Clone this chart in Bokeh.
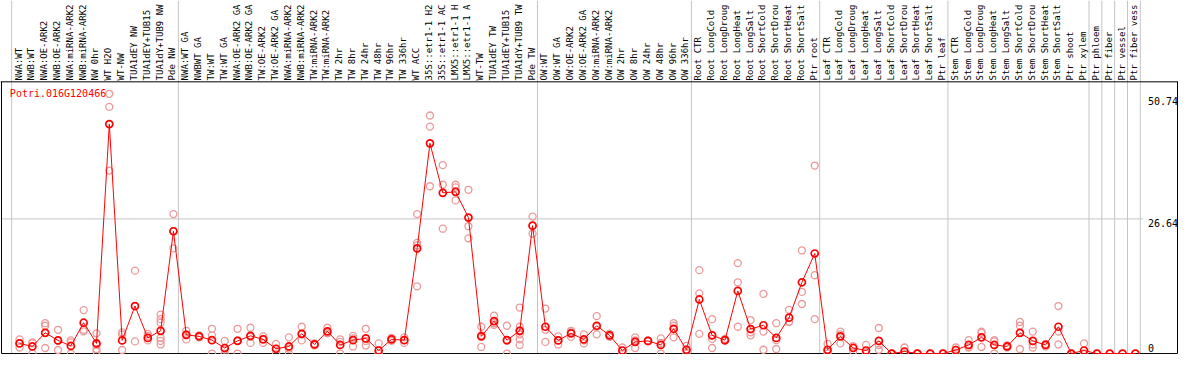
from math import pi
from bokeh.plotting import figure
from bokeh.models import Range1d, ColumnDataSource
from bokeh.embed import file_html
from bokeh.resources import INLINE
from bokeh.core.properties import value

gene_id = "Potri.016G120466"

categories = [
    "NWA:WT", "NWB:WT", "NWA:OE-ARK2", "NWB:OE-ARK2", "NWA:miRNA-ARK2",
    "NWB:miRNA-ARK2", "NW 0hr", "WT H2O", "WT-NW", "TUA1dEY NW",
    "TUA1dEY+TUB15", "TUA1dY+TUB9 NW", "Pde NW",
    "NWA:WT GA", "NWBWT GA", "TW:WT", "TW:WT GA", "NWA:OE-ARK2 GA",
    "NWB:OE-ARK2 GA", "TW:OE-ARK2", "TW:OE-ARK2 GA", "NWA:miRNA-ARK2",
    "NWB:miRNA-ARK2", "TW:miRNA-ARK2", "TW:miRNA-ARK2", "TW 2hr", "TW 8hr",
    "TW 24hr", "TW 48hr", "TW 96hr", "TW 336hr", "WT ACC", "35S::etr1-1 H2",
    "35S::etr1-1 AC", "LMX5::etr1-1 H", "LMX5::etr1-1 A", "WT-TW",
    "TUA1dEY TW", "TUA1dEY+TUB15", "TUA1dY+TUB9 TW", "Pde TW",
    "OW:WT", "OW:WT GA", "OW:OE-ARK2", "OW:OE-ARK2 GA", "OW:miRNA-ARK2",
    "OW:miRNA-ARK2", "OW 2hr", "OW 8hr", "OW 24hr", "OW 48hr", "OW 96hr",
    "OW 336hr",
    "Root CTR", "Root LongCold", "Root LongDroug", "Root LongHeat",
    "Root LongSalt", "Root ShortCold", "Root ShortDrou", "Root ShortHeat",
    "Root ShortSalt", "Ptr root",
    "Leaf CTR", "Leaf LongCold", "Leaf LongDroug", "Leaf LongHeat",
    "Leaf LongSalt", "Leaf ShortCold", "Leaf ShortDrou", "Leaf ShortHeat",
    "Leaf ShortSalt", "Ptr leaf",
    "Stem CTR", "Stem LongCold", "Stem LongDroug", "Stem LongHeat",
    "Stem LongSalt", "Stem ShortCold", "Stem ShortDrou", "Stem ShortHeat",
    "Stem ShortSalt", "Ptr shoot", "Ptr xylem", "Ptr phloem", "Ptr fiber",
    "Ptr vessel", "Ptr fiber vess",
]

means = [
    2.0, 1.4, 4.1, 2.6, 1.5, 6.1, 2.0, 45.4, 2.6, 9.4, 3.1, 4.5, 24.2,
    3.7, 3.4, 2.65, 1.1, 2.5, 3.5, 2.8, 0.95, 1.4, 3.9, 1.8, 4.4, 1.7, 2.65,
    3.0, 0.6, 2.8, 2.65, 20.8, 41.6, 31.8, 32.0, 26.9, 3.4, 6.4, 2.65, 4.5,
    25.3,
    5.3, 2.6, 4.0, 2.8, 5.5, 3.6, 0.6, 2.3, 2.5, 1.7, 4.9, 0.75,
    10.7, 3.6, 2.65, 12.4, 4.85, 5.6, 3.1, 7.1, 14.1, 19.8,
    0.75, 3.4, 1.1, 0.6, 2.5, 0.0, 0.4, 0.0, 0.0, 0.0,
    0.7, 1.7, 3.2, 1.7, 1.4, 4.1, 2.5, 1.7, 5.3, 0.0, 0.6, 0.0, 0.0, 0.0, 0.0,
]

replicates = [
    [2.8, 2.0, 1.2], [2.2, 2.0, 0.0], [6.0, 5.5, 1.1], [4.7, 2.5, 0.7],
    [2.6, 2.2, 0.0], [8.6, 4.7, 4.4], [4.0, 1.7, 0.9, 0.4], [51.4, 48.8, 36.2],
    [4.2, 3.8, 0.7], [16.4, 9.4, 2.4], [3.9, 3.5, 2.6],
    [7.7, 6.8, 6.1, 3.1, 2.5, 1.8], [27.6, 24.2, 20.8],
    [4.5, 3.8, 2.8], [3.6, 3.4, 3.2], [4.9, 3.6, 0.0], [2.5, 0.8, 0.0],
    [4.9, 2.6, 0.0], [5.1, 3.3, 2.1], [3.4, 2.9, 2.1], [1.9, 0.9, 0.0],
    [3.2, 1.0, 0.0], [5.3, 3.8, 2.6], [2.0, 1.8, 1.6], [5.1, 4.1, 4.0],
    [2.8, 2.3, 0.0], [3.5, 3.0, 1.4], [4.9, 2.5, 1.6], [2.0, 0.0, 0.0],
    [3.1, 2.8, 2.5], [3.2, 2.65, 2.1], [27.6, 21.9, 21.4, 13.3],
    [47.1, 44.9, 33.1], [37.3, 33.4, 24.7], [33.4, 32.9, 30.3],
    [32.4, 25.2, 22.8], [5.3, 3.6, 1.3], [7.5, 6.0, 5.7], [5.5, 2.5, 0.0],
    [9.1, 5.3, 4.6, 3.8, 2.8, 1.7], [27.1, 25.3, 23.7],
    [8.9, 4.7, 2.3], [3.4, 2.6, 1.8], [4.5, 4.2, 3.3], [3.8, 2.6, 2.0],
    [7.4, 5.3, 3.8], [3.9, 3.6, 3.3], [1.2, 0.6, 0.0], [3.2, 2.6, 1.1],
    [2.6, 2.5, 2.4], [3.0, 2.1, 0.0], [6.0, 5.5, 3.2], [1.5, 0.75, 0.0],
    [16.5, 11.9, 3.9], [6.8, 2.9, 1.1], [2.9, 2.65, 2.5], [17.9, 14.1, 5.3],
    [6.6, 4.2, 3.6], [11.8, 4.35, 0.75], [6.0, 2.65, 0.9], [8.65, 6.3, 6.3],
    [20.4, 12.2, 9.8], [37.2, 15.5, 6.8],
    [1.9, 0.4, 0.0], [4.35, 3.8, 2.0], [1.4, 1.4, 0.4], [1.7, 0.0, 0.0],
    [5.05, 1.7, 0.75], [0.0, 0.0, 0.0], [1.2, 0.0, 0.0], [0.0, 0.0, 0.0],
    [0.0, 0.0, 0.0], [0.0, 0.0, 0.0],
    [1.2, 0.7, 0.2], [2.65, 1.3, 1.2], [4.35, 4.1, 1.3], [2.65, 2.4, 0.0],
    [1.6, 1.4, 1.2], [6.25, 5.5, 0.9], [4.35, 1.8, 1.2], [1.9, 1.8, 1.4],
    [9.4, 4.35, 1.8], [0.0, 0.0, 0.0], [2.0, 0.0, 0.0], [0.0], [0.0], [0.0],
    [0.0],
]

y_ticks = [50.74, 26.64, 0]
y_tick_labels = ["50.74", "26.64", "0"]
grid_values = [26.64]
# index of the last category before each grey separator (-1 = before the first)
separators_after = [-1, 12, 40, 52, 62, 72, 83, 84, 85, 86, 87]

# ---- layout (in reference-image pixels) ----
W, H = 1178, 354
REF_W, REF_H = 1194, 370
X0, DX = 19.3, 13.0      # centre of first category, spacing
Y0, DY = 369.0, 5.282    # zero line, pixels per unit
HEADER = 85.0            # bottom of the label band


def xd(px):
    return (px - X0) / DX


def yd(py):
    return (Y0 - py) / DY


FONT = value("DejaVu Sans Mono")

p = figure(width=W, height=H, output_backend="svg", toolbar_location=None,
           x_range=Range1d(xd(0), xd(REF_W)), y_range=Range1d(yd(REF_H), yd(0)),
           x_axis_location=None, y_axis_location=None,
           min_border_left=0, min_border_right=0, min_border_top=0,
           min_border_bottom=0)
p.outline_line_color = None
p.xgrid.visible = False
p.ygrid.visible = False
p.background_fill_color = "white"
p.border_fill_color = "white"

idx = list(range(len(categories)))

# grey separators (full height)
sep_x = [s + 5.0 / DX for s in separators_after]
p.segment(x0=sep_x, x1=sep_x, y0=[yd(REF_H)] * len(sep_x),
          y1=[yd(0)] * len(sep_x), line_color="#c4c4c4", line_width=1)

# horizontal grid line
p.segment(x0=[xd(1)] * len(grid_values), x1=[xd(1158)] * len(grid_values),
          y0=grid_values, y1=grid_values, line_color="#c4c4c4", line_width=1)

# frame of the plot area
p.segment(x0=[xd(0), xd(1), xd(1193), xd(1)],
          x1=[xd(REF_W), xd(1), xd(1193), xd(1193)],
          y0=[yd(HEADER), yd(HEADER), yd(HEADER), 0],
          y1=[yd(HEADER), 0, 0, 0], line_color="black", line_width=1)

# category labels
p.text(x=idx, y=[yd(83.5)] * len(idx), text=categories, angle=pi / 2,
       text_align="left", text_baseline="middle", text_font=FONT,
       text_font_size="9px", text_color="black", x_offset=-1)

# replicates
rx, ry = [], []
for i, reps in enumerate(replicates):
    for v in reps:
        rx.append(i)
        ry.append(v)
p.scatter(rx, ry, marker="circle", size=7, fill_color=None,
          line_color="#eb9a9a", line_width=1.3)

# mean line and points
src = ColumnDataSource(dict(x=idx, y=means))
p.line("x", "y", source=src, line_color="#ff0000", line_width=1)
p.scatter("x", "y", source=src, marker="circle", size=7, fill_color=None,
          line_color="#ff0000", line_width=1.7)

# gene name
p.text(x=[xd(9.5)], y=[yd(91.5)], text=[gene_id], text_align="left",
       text_baseline="top", text_font=FONT, text_font_size="10px",
       text_color="#ff0000")

# value labels on the right
p.text(x=[xd(1163)] * 2, y=y_ticks[:2], text=y_tick_labels[:2],
       text_align="left", text_baseline="top", text_font=FONT,
       text_font_size="10px", text_color="black")
p.text(x=[xd(1163)], y=y_ticks[2:], text=y_tick_labels[2:],
       text_align="left", text_baseline="middle", y_offset=-6,
       text_font=FONT, text_font_size="10px", text_color="black")

open("out.html", "w").write(file_html(p, INLINE))
